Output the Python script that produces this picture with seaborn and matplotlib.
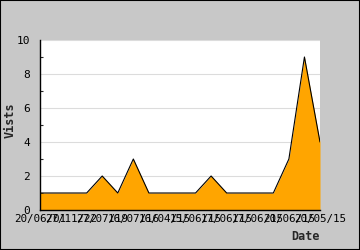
import matplotlib
matplotlib.use("Agg")
import matplotlib.pyplot as plt
import seaborn as sns
import pandas as pd
import numpy as np

visits = [1, 1, 1, 1, 2, 1, 3, 1, 1, 1, 1, 2, 1, 1, 1, 1, 3, 9, 4]
date_labels = ["20/06/01", "27/11/22", "27/07/19", "16/07/16", "16/04/15",
               "15/06/15", "17/06/15", "17/06/15", "20/06/15", "20/05/15"]
y_ticks = [0, 2, 4, 6, 8, 10]

df = pd.DataFrame({"idx": np.arange(len(visits)), "visits": visits})

sns.set_style("white")
plt.rcParams['font.family'] = ['DejaVu Sans Mono', 'DejaVu Sans']

fig = plt.figure(figsize=(3.6, 2.5), dpi=100, facecolor="#c8c8c8")
fig.patches.append(plt.Rectangle((0, 0), 1, 1, transform=fig.transFigure,
                                 fill=False, edgecolor="black", linewidth=1.5))
ax = fig.add_axes([40/360, 40/250, 280/360, 170/250])
ax.set_facecolor("white")

ax.fill_between(df["idx"], df["visits"], 0, color="#ffa500", linewidth=0, zorder=2)
sns.lineplot(data=df, x="idx", y="visits", ax=ax, color="black", linewidth=0.8, zorder=3)

ax.set_xlim(0, len(visits) - 1)
ax.set_ylim(0, 10)
ax.set_yticks(y_ticks)
ax.set_yticks(np.arange(1, 10, 2), minor=True)
ax.set_yticklabels([str(v) for v in y_ticks], fontsize=8)
ax.set_xticks(np.arange(0, len(visits), 2))
ax.set_xticklabels(date_labels, fontsize=7.8)
ax.tick_params(axis="both", which="major", direction="in", length=4, width=0.8,
               colors="black", labelcolor="black", pad=2)
ax.tick_params(axis="y", which="minor", direction="in", length=2.5, width=0.8, left=True)
ax.tick_params(axis="x", which="major", length=5, pad=3)
ax.tick_params(axis="y", which="major", pad=7)
ax.yaxis.grid(True, color="#dcdcdc", linewidth=0.8, zorder=0)
ax.set_axisbelow(True)

for s in ["top", "right"]:
    ax.spines[s].set_visible(False)
for s in ["left", "bottom"]:
    ax.spines[s].set_color("black")
    ax.spines[s].set_linewidth(1)
    ax.spines[s].set_zorder(5)

ax.set_xlabel("")
ax.set_ylabel("")
fig.text(10/360, 1 - 120/250, "Vists", rotation=90, fontsize=8.5, fontweight="bold",
         ha="center", va="center")
fig.text(305/360, 1 - 236/250, "Date", fontsize=8.5, fontweight="bold",
         ha="center", va="center")

fig.savefig("out.png", dpi=100, facecolor=fig.get_facecolor())
